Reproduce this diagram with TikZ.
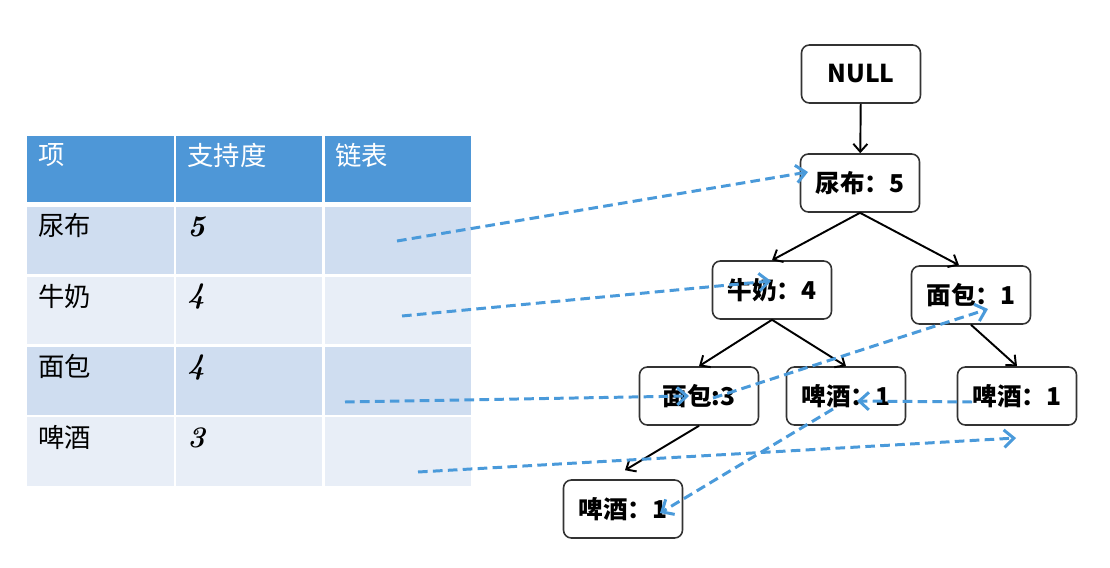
\documentclass[tikz,border=0pt]{standalone}
\usepackage{fontspec}
\usepackage{xcolor}
\usepackage{tikz}
\usetikzlibrary{arrows.meta,calc}
\newfontfamily\cjk{Noto Sans CJK SC}
\definecolor{hdrblue}{RGB}{78,151,215}
\definecolor{rowa}{RGB}{207,221,240}
\definecolor{rowb}{RGB}{232,238,247}
\definecolor{linkblue}{RGB}{74,154,218}

\begin{document}
\begin{tikzpicture}[x=0.02cm,y=-0.02cm,
    treenode/.style={draw=black!80,line width=0.9pt,rounded corners=4.5pt,
      minimum width=2.38cm,minimum height=1.16cm,inner sep=0pt,
      font=\cjk\bfseries\fontsize{14}{16}\selectfont},
    cell/.style={anchor=west,inner sep=0pt,font=\cjk\fontsize{15}{17}\selectfont},
    num/.style={anchor=west,inner sep=0pt,font=\bfseries\itshape\fontsize{17}{19}\selectfont},
    treearrow/.style={-{Straight Barb[length=4.5pt,width=8pt]},line width=1.1pt},
    link/.style={-{Straight Barb[length=5.5pt,width=10pt]},linkblue,line width=1.7pt,
      dash pattern=on 5.5pt off 3pt}]
  \useasboundingbox (0,0) rectangle (1110,568);
  % table
  \foreach \ya/\yb/\c in {136/202/hdrblue,207/274/rowa,277/344/rowb,347/415/rowa,417/486/rowb}
    \foreach \xa/\xb in {27/174,176/322,325/471}
      \fill[\c] (\xa,\ya) rectangle (\xb,\yb);
  \node[cell,white] (hitem) at (38,155) {项};
  \node[cell,white] (hsup) at (187,155) {支持度};
  \node[cell,white] (hlist) at (335,155) {链表};
  \node[cell] (item1) at (38,225) {尿布};
  \node[cell] (item2) at (38,296) {牛奶};
  \node[cell] (item3) at (38,366) {面包};
  \node[cell] (item4) at (38,437) {啤酒};
  \node[num] (sup1) at (187,227) {5};
  \node[num] (sup2) at (187,297) {4};
  \node[num] (sup3) at (187,368) {4};
  \node[num] (sup4) at (187,438) {3};
  \coordinate (l1) at (397,241);
  \coordinate (l2) at (402,316);
  \coordinate (l3) at (345,402);
  \coordinate (l4) at (418,472);
  % tree
  \node[treenode] (null) at (861,74) {NULL};
  \node[treenode] (niaobu) at (860,183) {尿布：5};
  \node[treenode] (niunai) at (772,290) {牛奶：4};
  \node[treenode] (mianbao1) at (971,295) {面包：1};
  \node[treenode] (mianbao3) at (699,396) {面包:3};
  \node[treenode] (pijiu2) at (846,396) {啤酒：1};
  \node[treenode] (pijiu1) at (1017,396) {啤酒：1};
  \node[treenode] (pijiu3) at (623,509) {啤酒：1};
  \draw[treearrow] (null) -- (niaobu);
  \draw[treearrow] (niaobu.south) -- (niunai.north);
  \draw[treearrow] (niaobu.south) -- ($(mianbao1.north)+(-12,0)$);
  \draw[treearrow] (niunai.south) -- (mianbao3.north);
  \draw[treearrow] (niunai.south) -- (pijiu2.north);
  \draw[treearrow] (mianbao1.south) -- (pijiu1.north);
  \draw[treearrow] (mianbao3.south) -- ($(pijiu3.north)+(2,-9)$);
  % links
  \draw[link] (l1) -- ($(niaobu)+(-52,-11)$);
  \draw[link] (l2) -- ($(niunai)+(-1,-9)$);
  \draw[link] (l3) -- ($(mianbao3)+(-10,0)$);
  \draw[link] ($(mianbao3)+(14,2)$) -- ($(mianbao1)+(17,14)$);
  \draw[link] (l4) -- ($(pijiu1)+(-1,42)$);
  \draw[link] ($(pijiu1)+(-45,6)$) -- ($(pijiu2)+(11,5)$);
  \draw[link] ($(pijiu2)+(-13,13)$) -- ($(pijiu3)+(37,4)$);
\end{tikzpicture}
\end{document}
